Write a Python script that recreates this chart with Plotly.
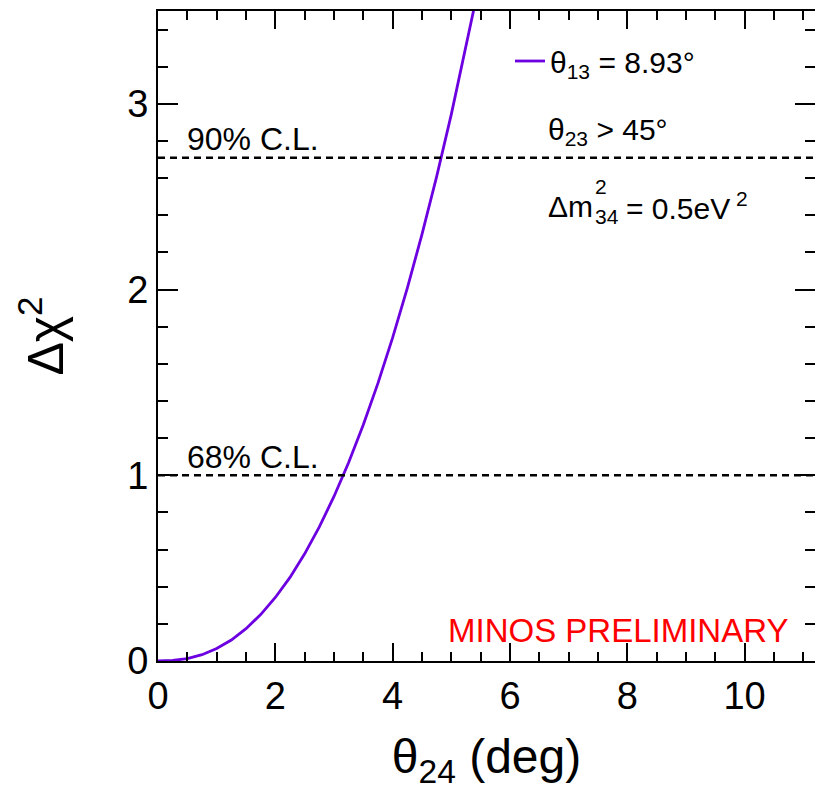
import plotly.graph_objects as go

# ---- data ----
theta24 = [0, 0.25, 0.5, 0.75, 1.0, 1.25, 1.5, 1.75, 2.0, 2.25, 2.5, 2.75,
           3.0, 3.25, 3.5, 3.75, 4.0, 4.25, 4.5, 4.75, 5.0, 5.25, 5.5]
dchi2 = [0, 0.003, 0.013, 0.034, 0.067, 0.113, 0.174, 0.25, 0.342, 0.45, 0.577, 0.722,
         0.886, 1.069, 1.272, 1.496, 1.741, 2.008, 2.297, 2.608, 2.943, 3.299, 3.68]
cl_levels = [1.0, 2.71]
cl_labels = ["68% C.L.", "90% C.L."]
x_range = [0, 11.2]
y_range = [0, 3.5]
x_ticks = [0, 2, 4, 6, 8, 10]
y_ticks = [0, 1, 2, 3]

FONT = "Liberation Sans, Arial, Helvetica, sans-serif"
CURVE = "#6c00e0"

W, H = 815, 795
ML, MR, MT, MB = 158, 0, 11, 134
PW = W - ML - MR
PH = H - MT - MB


def px2x(px):
    return x_range[0] + (px - ML) / PW * (x_range[1] - x_range[0])


def py2y(py):
    return y_range[0] + (MT + PH - py) / PH * (y_range[1] - y_range[0])


fig = go.Figure()

fig.add_trace(go.Scatter(
    x=theta24, y=dchi2, mode="lines",
    line=dict(color=CURVE, width=2.8),
    name="θ<sub>13</sub> = 8.93°", showlegend=True,
))

for lvl, lab in zip(cl_levels, cl_labels):
    fig.add_hline(y=lvl, line=dict(color="black", width=2.4, dash="7px,5px"))
    fig.add_annotation(x=px2x(185), y=lvl + 0.10, text=lab, showarrow=False,
                       xanchor="left", yanchor="middle",
                       font=dict(family=FONT, size=32, color="black"))

# info texts
fig.add_annotation(x=px2x(546), y=py2y(131), text="θ<sub>23</sub> > 45°", showarrow=False,
                   xanchor="left", yanchor="middle",
                   font=dict(family=FONT, size=30, color="black"))
fig.add_annotation(x=px2x(546), y=py2y(206), text="Δm", showarrow=False,
                   xanchor="left", yanchor="middle",
                   font=dict(family=FONT, size=30, color="black"))
fig.add_annotation(x=px2x(593), y=py2y(186), text="2", showarrow=False,
                   xanchor="left", yanchor="middle",
                   font=dict(family=FONT, size=21, color="black"))
fig.add_annotation(x=px2x(593), y=py2y(216), text="34", showarrow=False,
                   xanchor="left", yanchor="middle",
                   font=dict(family=FONT, size=21, color="black"))
fig.add_annotation(x=px2x(624), y=py2y(206), text="= 0.5eV<sup> 2</sup>", showarrow=False,
                   xanchor="left", yanchor="middle",
                   font=dict(family=FONT, size=30, color="black"))

fig.add_annotation(x=px2x(446), y=py2y(630), text="MINOS PRELIMINARY", showarrow=False,
                   xanchor="left", yanchor="middle",
                   font=dict(family=FONT, size=33, color="#ff0000"))

axis_common = dict(
    showline=True, linecolor="black", linewidth=2, mirror="ticks",
    ticks="inside", tickcolor="black", tickwidth=2,
    showgrid=False, zeroline=False,
    tickfont=dict(family=FONT, size=38, color="black"),
)

fig.update_xaxes(
    range=x_range, tickvals=x_ticks, ticklen=18,
    minor=dict(dtick=0.5, ticklen=9, tickwidth=2, tickcolor="black", ticks="inside"),
    title=dict(text="θ<sub>24</sub> (deg)", font=dict(family=FONT, size=48, color="black"), standoff=24),
    **axis_common,
)
fig.update_yaxes(
    range=y_range, tickvals=y_ticks, ticklen=20,
    minor=dict(dtick=0.2, ticklen=10, tickwidth=2, tickcolor="black", ticks="inside"),
    title=dict(text="Δχ<sup>2</sup>", font=dict(family=FONT, size=50, color="black"), standoff=48),
    **axis_common,
)

fig.update_layout(
    width=W, height=H,
    margin=dict(l=ML, r=MR, t=MT, b=MB, autoexpand=False),
    paper_bgcolor="white", plot_bgcolor="white",
    legend=dict(x=(510 - ML) / PW, y=(MT + PH - 35) / PH, xanchor="left", yanchor="top",
                bgcolor="rgba(0,0,0,0)", borderwidth=0,
                font=dict(family=FONT, size=30, color="black")),
)

fig.write_html("out.html")
